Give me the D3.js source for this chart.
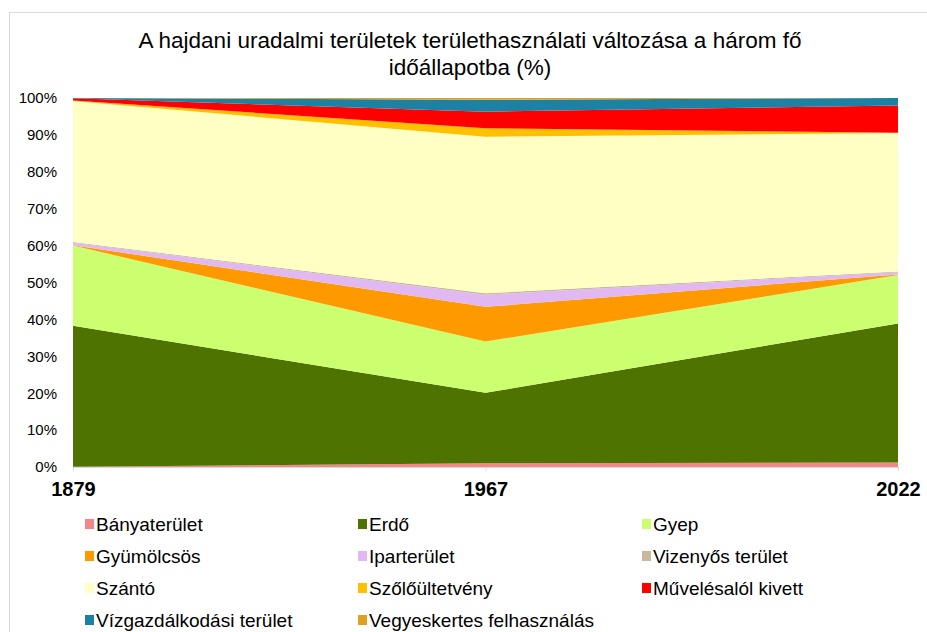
<!DOCTYPE html>
<html>
<head>
<meta charset="utf-8">
<script src="https://cdn.jsdelivr.net/npm/d3@7"></script>
<style>
  body { margin: 0; background: #fff; font-family: "Liberation Sans", Arial, sans-serif; }
</style>
</head>
<body>
<div id="plot"></div>
<script>
// Years (category positions)
const years = ["1879", "1967", "2022"];

// Land use categories, stacking order bottom -> top
const categories = [
  "Bányaterület", "Erdő", "Gyep", "Gyümölcsös", "Iparterület", "Vizenyős terület",
  "Szántó", "Szőlőültetvény", "Művelésalól kivett", "Vízgazdálkodási terület", "Vegyeskertes felhasználás"
];

// Share (%) per category, one value per year
const banya   = [0.1, 1.0, 1.2];
const erdo    = [38.2, 19.1, 37.7];
const gyep    = [21.7, 13.9, 13.1];
const gyumolcs = [0.1, 9.4, 0.2];
const ipar    = [0.7, 3.3, 0.6];
const vizenyos = [0.2, 0.4, 0.2];
const szanto  = [38.2, 42.4, 37.5];
const szolo   = [0.1, 2.3, 0.1];
const muveles = [0.6, 4.5, 7.4];
const vizgazd = [0.1, 3.2, 2.0];
const vegyes  = [0.0, 0.5, 0.0];

const colors = ["#f4868a", "#4f7300", "#ccff70", "#ff9900", "#e2b8f2", "#c8b89c",
                "#ffffc4", "#ffc000", "#ff0000", "#1b82a6", "#e0a020"];

const series = [banya, erdo, gyep, gyumolcs, ipar, vizenyos, szanto, szolo, muveles, vizgazd, vegyes];
const table = years.map((y, i) => {
  const row = {year: y};
  categories.forEach((c, k) => row[c] = series[k][i]);
  return row;
});

const svg = d3.select("#plot")
  .append("svg")
  .attr("width", 927)
  .attr("height", 632);

// chart frame
svg.append("rect")
  .attr("x", 9.5).attr("y", 12.5)
  .attr("width", 940).attr("height", 640)
  .attr("fill", "#fff")
  .attr("stroke", "#d9d9d9");

// title
const title = svg.append("text")
  .attr("text-anchor", "middle")
  .attr("font-size", 22.5)
  .attr("fill", "#000");
title.append("tspan").attr("x", 470).attr("y", 48)
  .text("A hajdani uradalmi területek területhasználati változása a három fő");
title.append("tspan").attr("x", 470).attr("y", 75)
  .text("időállapotba (%)");

const xScale = d3.scalePoint().domain(years).range([73, 898]);
const yScale = d3.scaleLinear().domain([0, 100]).range([467, 98]);

const stack = d3.stack().keys(categories);
const layers = stack(table);

const area = d3.area()
  .x(d => xScale(d.data.year))
  .y0(d => yScale(d[0]))
  .y1(d => yScale(d[1]));

svg.append("g")
  .selectAll("path")
  .data(layers)
  .enter()
  .append("path")
  .attr("d", area)
  .attr("fill", (d, i) => colors[i]);

// y axis
const yAxis = svg.append("g")
  .attr("transform", "translate(73,0)")
  .call(d3.axisLeft(yScale).tickValues(d3.range(0, 101, 10)).tickFormat(d => d + "%").tickSize(0).tickPadding(16));
yAxis.select(".domain").remove();
yAxis.selectAll("text")
  .attr("font-family", "Liberation Sans, Arial, sans-serif")
  .attr("font-size", 15)
  .attr("fill", "#000");

// x axis
const xAxis = svg.append("g")
  .attr("transform", "translate(0,467)")
  .call(d3.axisBottom(xScale).tickSize(4).tickPadding(11));
xAxis.select(".domain").attr("stroke", "#d9d9d9");
xAxis.selectAll("line").attr("stroke", "#d9d9d9");
xAxis.selectAll("text")
  .attr("font-family", "Liberation Sans, Arial, sans-serif")
  .attr("font-size", 20)
  .attr("font-weight", "bold")
  .attr("fill", "#000");

// legend
const legendX = [85, 358, 642];
const legend = svg.append("g")
  .selectAll("g")
  .data(categories)
  .enter()
  .append("g")
  .attr("transform", (d, i) => `translate(${legendX[i % 3]},${524 + Math.floor(i / 3) * 32})`);
legend.append("rect")
  .attr("x", 0).attr("y", -5)
  .attr("width", 9).attr("height", 10)
  .attr("fill", (d, i) => colors[i]);
legend.append("text")
  .attr("x", 11).attr("y", 7)
  .attr("font-size", 19)
  .attr("fill", "#000")
  .text(d => d);
</script>
</body>
</html>
